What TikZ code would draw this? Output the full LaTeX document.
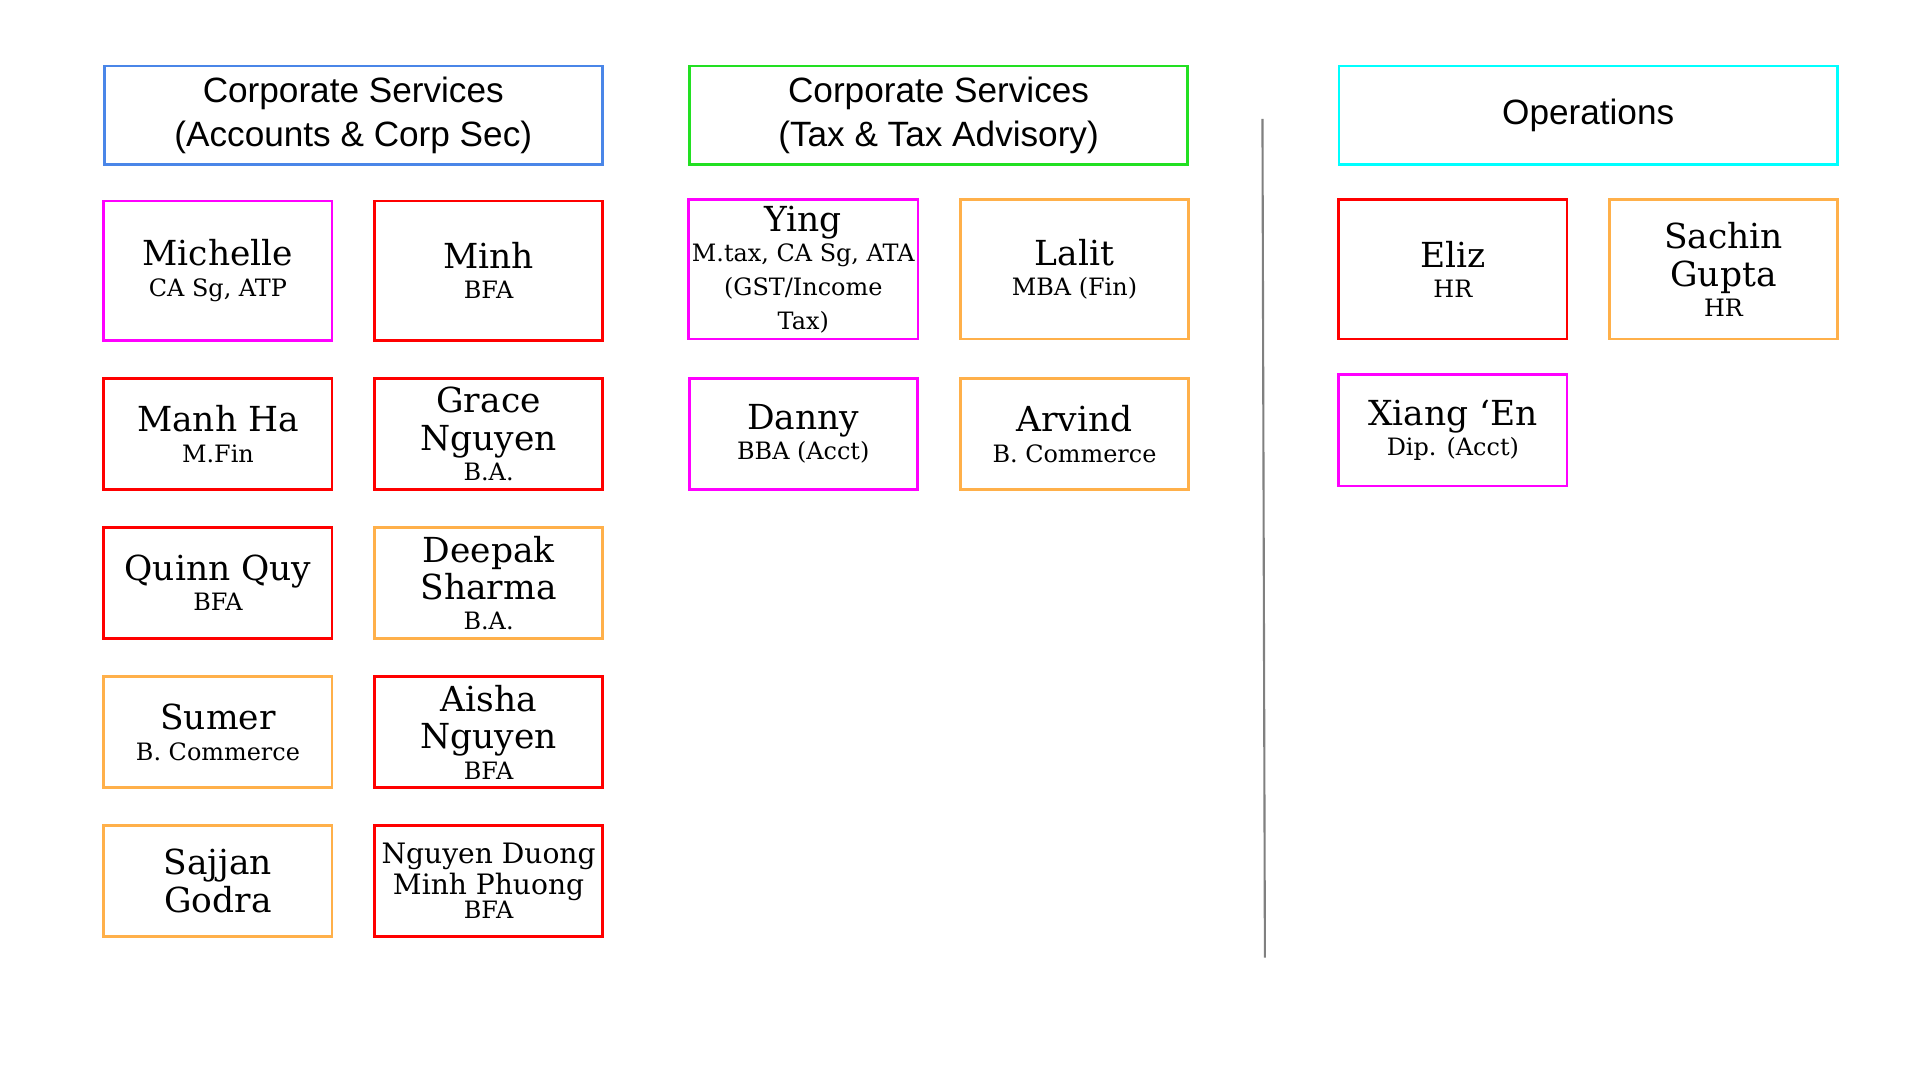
\documentclass[tikz,border=0pt]{standalone}
\usepackage{fontspec}
\setmainfont{DejaVu Serif}
\newfontfamily\headfont{Liberation Sans}
\definecolor{cblue}{HTML}{4A86E8}
\definecolor{cgreen}{HTML}{22E022}
\definecolor{ccyan}{HTML}{00FFFF}
\definecolor{cmag}{HTML}{FF00FF}
\definecolor{cred}{HTML}{FF0000}
\definecolor{corange}{HTML}{FFB04A}
\tikzset{
  headbox/.style={draw,line width=0.8pt,minimum width=4.98cm,minimum height=0.98cm,align=center,
    inner sep=1pt,font=\headfont\fontsize{10}{12.4}\selectfont},
  staffbox/.style={draw,line width=0.8pt,minimum width=2.28cm,minimum height=1.39cm,align=center,
    inner sep=1pt,font=\fontsize{9.8}{10.6}\selectfont},
  rowbox/.style={staffbox,minimum height=1.11cm}
}
\newcommand{\smallsub}{\fontsize{6.8}{7.6}\selectfont}
\newcommand{\sub}[1]{\\[-2pt]\smallsub #1}
\begin{document}
\begin{tikzpicture}[x=0.012245cm,y=-0.012245cm]
\useasboundingbox (0,0) rectangle (1568,882);

% headers
\node[headbox,draw=cblue] (HACC) at (288.5,94) {Corporate Services\\(Accounts \& Corp Sec)};
\node[headbox,draw=cgreen] (HTAX) at (766.5,94) {Corporate Services\\(Tax \& Tax Advisory)};
\node[headbox,draw=ccyan] (HOPS) at (1297,94) {Operations};

% accounts
\node[staffbox,draw=cmag] (MICH) at (178,221) {Michelle\sub{CA Sg, ATP}};
\node[staffbox,draw=cred] (MINH) at (399,221) {Minh\sub{BFA}};
\node[rowbox,draw=cred] (MANH) at (178,354.5) {Manh Ha\sub{M.Fin}};
\node[rowbox,draw=cred] (GRACE) at (399,354.5) {Grace\\Nguyen\sub{B.A.}};
\node[rowbox,draw=cred] (QUINN) at (178,476) {Quinn Quy\sub{BFA}};
\node[rowbox,draw=corange] (DEEP) at (399,476) {Deepak\\Sharma\sub{B.A.}};
\node[rowbox,draw=corange] (SUMER) at (178,598) {Sumer\sub{B. Commerce}};
\node[rowbox,draw=cred] (AISHA) at (399,598) {Aisha\\Nguyen\sub{BFA}};
\node[rowbox,draw=corange] (SAJJ) at (178,719.5) {Sajjan\\Godra};
\node[rowbox,draw=cred,font=\fontsize{8}{8.8}\selectfont] (NGUY) at (399,719.5) {Nguyen Duong\\Minh Phuong\sub{BFA}};

% tax
\node[staffbox,draw=cmag] (YING) at (656,220) {Ying\\[-2pt]\smallsub M.tax, CA Sg, ATA\\[-1pt]\smallsub (GST/Income\\[-1pt]\smallsub Tax)};
\node[staffbox,draw=corange] (LALIT) at (877.5,220) {Lalit\sub{MBA (Fin)}};
\node[rowbox,draw=cmag] (DANNY) at (656,354.5) {Danny\sub{BBA (Acct)}};
\node[rowbox,draw=corange] (ARV) at (877.5,354.5) {Arvind\sub{B. Commerce}};

% divider
\coordinate (DTOP) at (1031,97);
\coordinate (DBOT) at (1033,782);
\draw[gray,line width=0.6pt] (DTOP) -- (DBOT);

% operations
\node[staffbox,draw=cred] (ELIZ) at (1186.5,220) {Eliz\sub{HR}};
\node[staffbox,draw=corange] (SACH) at (1407.5,220) {Sachin\\Gupta\sub{HR}};
\node[rowbox,draw=cmag] (XIANG) at (1186.5,351.5) {Xiang ‘En\sub{Dip. (Acct)}};

\end{tikzpicture}
\end{document}
